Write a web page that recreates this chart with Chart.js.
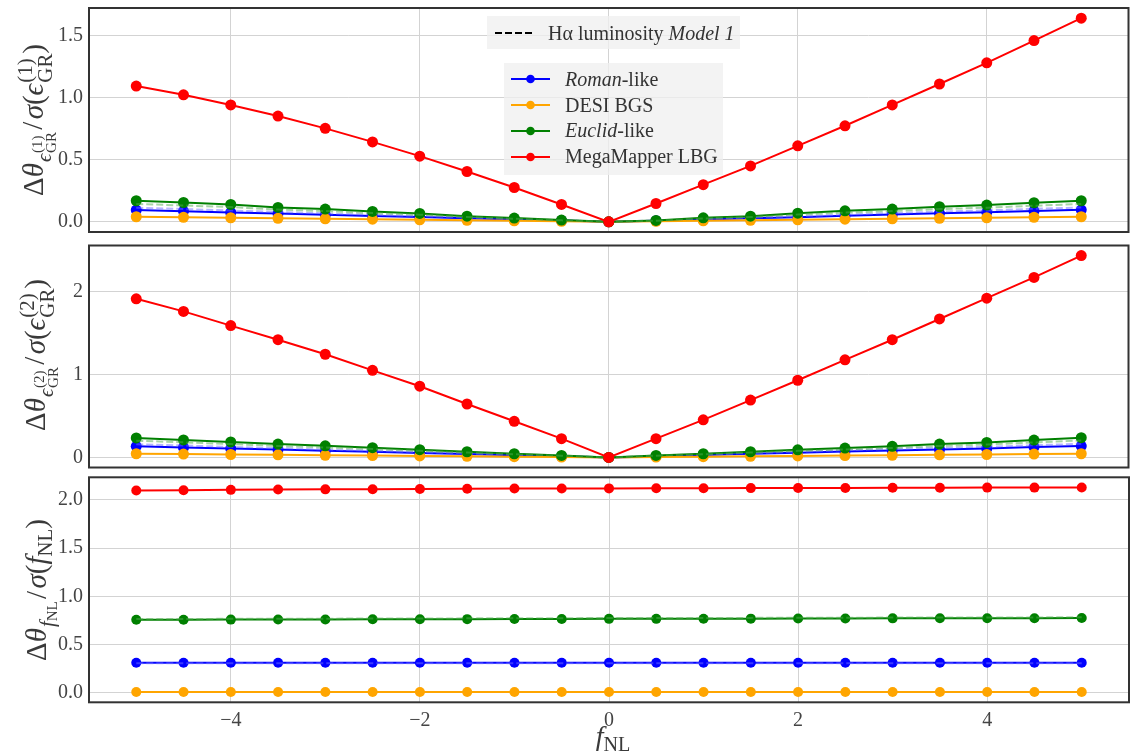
<!DOCTYPE html>
<html>
<head>
<meta charset="utf-8">
<script src="https://cdn.jsdelivr.net/npm/chart.js@4.4.1/dist/chart.umd.min.js"></script>
<style>
  html, body { margin: 0; padding: 0; background: #ffffff; }
  #wrap { position: relative; width: 1134px; height: 753px; overflow: hidden; font-family: "Liberation Serif", "DejaVu Serif", serif; color: #333; }
  canvas { position: absolute; left: 0; }
  .ylab { position: absolute; transform: translate(-50%, -50%) rotate(-90deg); white-space: nowrap; font-size: 29px; line-height: 1; color: #3a3a3a; }
  .ylab i { font-style: italic; }
  .sub { font-size: 0.72em; position: relative; top: 0.4em; display: inline-flex; align-items: center; margin-left: 0.05em; }
  .stack { display: inline-flex; flex-direction: column; font-size: 0.72em; line-height: 0.95; vertical-align: middle; margin-left: 0.05em; }
  .stack span { display: block; text-align: left; }
  .sl { margin: 0 0.08em; }
  .nl { font-size: 0.72em; position: relative; top: 0.3em; }
  .xlab { position: absolute; transform: translate(-50%, -50%); font-size: 28px; color: #3a3a3a; white-space: nowrap; }
  .xlab sub { font-size: 0.72em; font-style: normal; vertical-align: -0.3em; }
  .legbox { position: absolute; background: rgba(240,240,240,0.78); }
  .legrow { position: absolute; left: 0; height: 24px; display: flex; align-items: center; font-size: 20px; color: #333; white-space: nowrap; }
  .legrow svg { flex: none; }
</style>
</head>
<body>
<div id="wrap">
  <canvas id="pEps1" width="1134" height="240" style="top:0px"></canvas>
  <canvas id="pEps2" width="1134" height="235" style="top:240px"></canvas>
  <canvas id="pFnl" width="1134" height="283" style="top:470px"></canvas>

  <!-- y-axis titles -->
  <div class="ylab" style="left:36px; top:120px;">Δ<i>θ</i><span class="sub"><i>ϵ</i><span class="stack"><span>(1)</span><span>GR</span></span></span><span class="sl">/</span><i>σ</i>(<i>ϵ</i><span class="stack"><span>(1)</span><span>GR</span></span>)</div>
  <div class="ylab" style="left:38px; top:355px;">Δ<i>θ</i><span class="sub"><i>ϵ</i><span class="stack"><span>(2)</span><span>GR</span></span></span><span class="sl">/</span><i>σ</i>(<i>ϵ</i><span class="stack"><span>(2)</span><span>GR</span></span>)</div>
  <div class="ylab" style="left:36px; top:590px;">Δ<i>θ</i><span class="sub"><i>f</i><span class="nl">NL</span></span><span class="sl">/</span><i>σ</i>(<i>f</i><span class="nl">NL</span>)</div>

  <!-- x-axis title -->
  <div class="xlab" style="left:613px; top:738px;"><i>f</i><sub>NL</sub></div>

  <!-- legends -->
  <div class="legbox" style="left:487px; top:16px; width:253px; height:33px;">
    <div class="legrow" style="top:5px; left:7px;">
      <svg width="40" height="10"><line x1="1" y1="5" x2="39" y2="5" stroke="#000" stroke-width="2" stroke-dasharray="7,3"/></svg>
      <span style="margin-left:14px;">Hα luminosity <i>Model 1</i></span>
    </div>
  </div>
  <div class="legbox" style="left:504px; top:63px; width:219px; height:112px;" id="leg2"></div>
</div>

<script>
// f_NL grid shared by all three panels
const fnl = [-5, -4.5, -4, -3.5, -3, -2.5, -2, -1.5, -1, -0.5, 0, 0.5, 1, 1.5, 2, 2.5, 3, 3.5, 4, 4.5, 5];

// Survey names and colours
const surveys = ['Roman-like', 'DESI BGS', 'Euclid-like', 'MegaMapper LBG'];
const colors = ['#0000ff', '#ffa500', '#008000', '#ff0000'];
const model1Colors = ['rgba(110,110,255,0.5)', 'rgba(255,165,0,0.5)', 'rgba(80,170,80,0.5)', 'rgba(255,0,0,0.5)'];

// Panel 1: shift in epsilon_GR^(1) relative to its error
const eps1Roman  = [0.095, 0.086, 0.076, 0.067, 0.057, 0.048, 0.038, 0.029, 0.019, 0.010, 0, 0.009, 0.019, 0.028, 0.037, 0.049, 0.060, 0.069, 0.077, 0.088, 0.097];
const eps1Desi   = [0.041, 0.037, 0.033, 0.029, 0.025, 0.021, 0.016, 0.012, 0.008, 0.004, 0, 0.004, 0.008, 0.012, 0.016, 0.021, 0.025, 0.029, 0.033, 0.037, 0.041];
const eps1Euclid = [0.170, 0.156, 0.140, 0.116, 0.103, 0.084, 0.068, 0.046, 0.030, 0.014, 0, 0.011, 0.032, 0.046, 0.070, 0.089, 0.103, 0.122, 0.135, 0.154, 0.170];
const eps1Mega   = [1.095, 1.025, 0.943, 0.853, 0.754, 0.645, 0.530, 0.406, 0.277, 0.140, 0, 0.148, 0.300, 0.451, 0.613, 0.775, 0.943, 1.112, 1.283, 1.462, 1.643];
const eps1RomanM1  = [0.114, 0.103, 0.091, 0.080, 0.068, 0.057, 0.046, 0.035, 0.023, 0.012, 0, 0.011, 0.023, 0.034, 0.045, 0.058, 0.071, 0.082, 0.092, 0.105, 0.116];
const eps1EuclidM1 = [0.144, 0.132, 0.119, 0.099, 0.087, 0.071, 0.058, 0.039, 0.025, 0.012, 0, 0.009, 0.027, 0.039, 0.059, 0.075, 0.087, 0.103, 0.114, 0.130, 0.144];

// Panel 2: shift in epsilon_GR^(2) relative to its error
const eps2Roman  = [0.133, 0.120, 0.107, 0.094, 0.080, 0.067, 0.054, 0.040, 0.027, 0.013, 0, 0.012, 0.028, 0.044, 0.056, 0.072, 0.084, 0.096, 0.108, 0.124, 0.137];
const eps2Desi   = [0.044, 0.040, 0.035, 0.031, 0.026, 0.022, 0.018, 0.013, 0.009, 0.004, 0, 0.004, 0.009, 0.013, 0.018, 0.022, 0.026, 0.031, 0.035, 0.040, 0.044];
const eps2Euclid = [0.235, 0.210, 0.186, 0.160, 0.140, 0.117, 0.093, 0.068, 0.044, 0.024, 0, 0.024, 0.044, 0.068, 0.092, 0.112, 0.133, 0.161, 0.181, 0.209, 0.237];
const eps2Mega   = [1.910, 1.758, 1.587, 1.417, 1.242, 1.048, 0.857, 0.643, 0.435, 0.226, 0, 0.226, 0.452, 0.690, 0.929, 1.175, 1.417, 1.667, 1.917, 2.167, 2.430];
const eps2RomanM1  = [0.158, 0.143, 0.127, 0.112, 0.095, 0.080, 0.064, 0.048, 0.032, 0.015, 0, 0.014, 0.033, 0.052, 0.067, 0.086, 0.100, 0.114, 0.128, 0.147, 0.163];
const eps2EuclidM1 = [0.202, 0.181, 0.160, 0.138, 0.120, 0.101, 0.080, 0.058, 0.038, 0.021, 0, 0.021, 0.038, 0.058, 0.079, 0.096, 0.114, 0.138, 0.156, 0.180, 0.204];

// Panel 3: shift in f_NL relative to its error
const fnlRoman  = [0.312, 0.312, 0.312, 0.312, 0.312, 0.312, 0.312, 0.312, 0.312, 0.312, 0.312, 0.312, 0.312, 0.312, 0.312, 0.312, 0.312, 0.312, 0.312, 0.312, 0.312];
const fnlDesi   = [0.008, 0.008, 0.008, 0.008, 0.008, 0.008, 0.008, 0.008, 0.008, 0.008, 0.008, 0.008, 0.008, 0.008, 0.008, 0.008, 0.008, 0.008, 0.008, 0.008, 0.008];
const fnlEuclid = [0.757, 0.758, 0.759, 0.760, 0.761, 0.762, 0.763, 0.764, 0.765, 0.766, 0.767, 0.767, 0.768, 0.769, 0.770, 0.771, 0.772, 0.773, 0.773, 0.774, 0.775];
const fnlMega   = [2.097, 2.100, 2.104, 2.108, 2.109, 2.111, 2.113, 2.115, 2.117, 2.118, 2.119, 2.120, 2.121, 2.122, 2.123, 2.124, 2.125, 2.126, 2.127, 2.127, 2.128];
const fnlRomanM1  = [0.306, 0.306, 0.306, 0.306, 0.306, 0.306, 0.306, 0.306, 0.306, 0.306, 0.306, 0.306, 0.306, 0.306, 0.306, 0.306, 0.306, 0.306, 0.306, 0.306, 0.306];
const fnlEuclidM1 = [0.765, 0.766, 0.767, 0.768, 0.769, 0.770, 0.771, 0.772, 0.773, 0.774, 0.775, 0.775, 0.776, 0.777, 0.778, 0.779, 0.780, 0.781, 0.781, 0.782, 0.783];

// Tick positions and labels
const xTicks = [-4, -2, 0, 2, 4];
const xTickLabels = ['\u22124', '\u22122', '0', '2', '4'];
const eps1Ticks = [0, 0.5, 1, 1.5];
const eps1TickLabels = ['0.0', '0.5', '1.0', '1.5'];
const eps2Ticks = [0, 1, 2];
const eps2TickLabels = ['0', '1', '2'];
const fnlTicks = [0, 0.5, 1, 1.5, 2];
const fnlTickLabels = ['0.0', '0.5', '1.0', '1.5', '2.0'];

const FONT = '"Liberation Serif", "DejaVu Serif", serif';

function pts(vals) { return fnl.map((x, i) => ({ x: x, y: vals[i] })); }

function solid(idx, vals, radius, order) {
  return {
    label: surveys[idx], data: pts(vals),
    borderColor: colors[idx], backgroundColor: colors[idx],
    borderWidth: 2, pointRadius: radius, pointBorderWidth: 0,
    pointBackgroundColor: colors[idx], pointHoverRadius: radius,
    tension: 0, order: order
  };
}
function dashed(idx, vals, order) {
  return {
    label: surveys[idx] + ' (Model 1)', data: pts(vals),
    borderColor: model1Colors[idx], backgroundColor: model1Colors[idx],
    borderWidth: 2, borderDash: [7, 3], pointRadius: 0, pointHoverRadius: 0,
    tension: 0, order: order
  };
}

// Draws the dark box around each plotting area
const frame = {
  id: 'frame',
  afterDatasetsDraw(chart) {
    const a = chart.chartArea, c = chart.ctx;
    c.save();
    c.strokeStyle = '#333333';
    c.lineWidth = 2;
    c.strokeRect(a.left, a.top, a.right - a.left, a.bottom - a.top);
    c.restore();
  }
};

function noPad(s) { s.paddingTop = 0; s.paddingBottom = 0; s.paddingLeft = 0; s.paddingRight = 0; }

function panel(id, datasets, yMin, yMax, yTicks, yLabels, padTop, xHeight, showX) {
  return new Chart(document.getElementById(id), {
    type: 'line',
    data: { datasets: datasets },
    options: {
      responsive: false, animation: false, devicePixelRatio: 1,
      layout: { padding: { top: padTop, right: 1, bottom: 0, left: 0 } },
      plugins: { legend: { display: false }, tooltip: { enabled: false } },
      scales: {
        x: {
          type: 'linear', min: -5.5, max: 5.5,
          afterBuildTicks: s => { s.ticks = xTicks.map(v => ({ value: v })); },
          afterFit: s => { s.height = xHeight; noPad(s); },
          grid: { color: '#d3d3d3', lineWidth: 1, drawTicks: false },
          border: { display: false },
          ticks: {
            display: showX, padding: 6, maxRotation: 0, autoSkip: false,
            color: '#444', font: { family: FONT, size: 20 },
            callback: (v, i) => xTickLabels[i]
          }
        },
        y: {
          type: 'linear', min: yMin, max: yMax,
          afterBuildTicks: s => { s.ticks = yTicks.map(v => ({ value: v })); },
          afterFit: s => { s.width = 89; noPad(s); },
          grid: { color: '#d3d3d3', lineWidth: 1, drawTicks: false },
          border: { display: false },
          ticks: {
            padding: 6, autoSkip: false, color: '#444', font: { family: FONT, size: 20 },
            callback: (v, i) => yLabels[i]
          }
        }
      }
    },
    plugins: [frame]
  });
}

panel('pEps1', [
  solid(0, eps1Roman, 5.5, 8), dashed(0, eps1RomanM1, 7),
  solid(1, eps1Desi, 5.5, 6),
  solid(2, eps1Euclid, 5.5, 5), dashed(2, eps1EuclidM1, 4),
  solid(3, eps1Mega, 5.5, 3)
], -0.082, 1.725, eps1Ticks, eps1TickLabels, 8, 8, false);

panel('pEps2', [
  solid(0, eps2Roman, 5.5, 8), dashed(0, eps2RomanM1, 7),
  solid(1, eps2Desi, 5.5, 6),
  solid(2, eps2Euclid, 5.5, 5), dashed(2, eps2EuclidM1, 4),
  solid(3, eps2Mega, 5.5, 3)
], -0.1215, 2.5515, eps2Ticks, eps2TickLabels, 2.5, 7.5, false);

panel('pFnl', [
  solid(0, fnlRoman, 5, 8), dashed(0, fnlRomanM1, 7),
  solid(1, fnlDesi, 5, 6),
  solid(2, fnlEuclid, 5, 5), dashed(2, fnlEuclidM1, 4),
  solid(3, fnlMega, 5, 3)
], -0.098, 2.234, fnlTicks, fnlTickLabels, 7.3, 50.7, true);

// Survey legend rows
const leg2 = document.getElementById('leg2');
const rowTops = [4, 30, 55.5, 81.5];
const italicPart = ['Roman', null, 'Euclid', null];
surveys.forEach((name, i) => {
  const row = document.createElement('div');
  row.className = 'legrow';
  row.style.top = rowTops[i] + 'px';
  row.style.left = '7px';
  const c = colors[i];
  let text = name;
  if (italicPart[i]) text = '<i>' + italicPart[i] + '</i>' + name.slice(italicPart[i].length);
  row.innerHTML = '<svg width="40" height="12"><line x1="0" y1="6" x2="39" y2="6" stroke="' + c +
    '" stroke-width="2"/><circle cx="19.5" cy="6" r="4.3" fill="' + c + '"/></svg>' +
    '<span style="margin-left:14px;">' + text + '</span>';
  leg2.appendChild(row);
});
</script>
</body>
</html>
